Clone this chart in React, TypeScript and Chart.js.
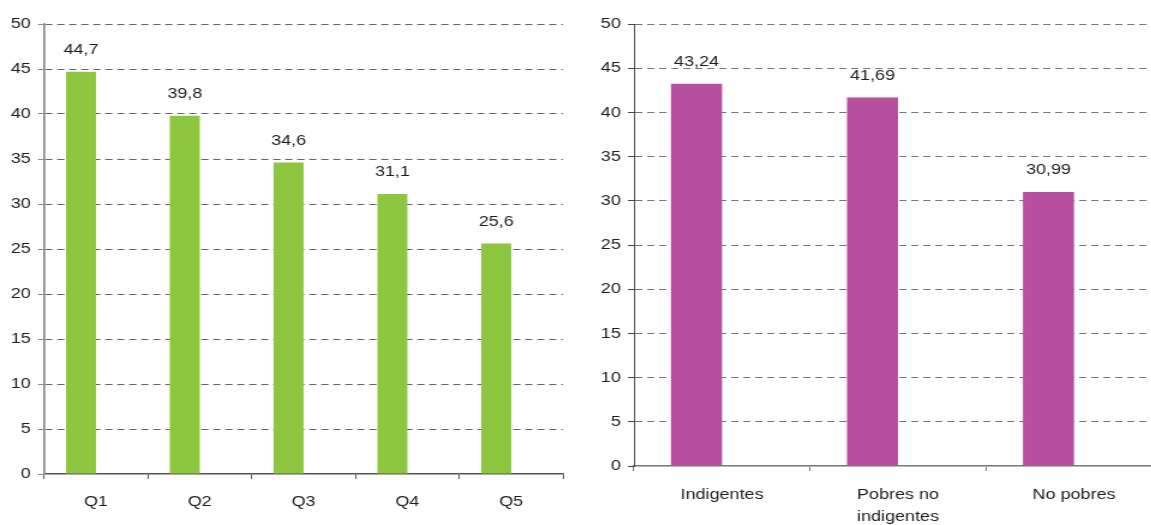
import React, { useEffect, useRef } from "react";
import { Chart, registerables } from "chart.js";

Chart.register(...registerables);

const quintiles = ["Q1", "Q2", "Q3", "Q4", "Q5"];
const quintileValues = [44.7, 39.8, 34.6, 31.1, 25.6];
const povertyGroups: (string | string[])[] = ["Indigentes", ["Pobres no", "indigentes"], "No pobres"];
const povertyValues = [43.24, 41.69, 30.99];
const yTicksMin = 0;
const yTicksMax = 50;
const yTicksStep = 5;

const SX = 1.2; // horizontal stretch of the reference image
const FONT = "'Liberation Sans', Arial, sans-serif";

const valueLabels = (decimals: number) => ({
  id: "valueLabels" + decimals,
  afterDatasetsDraw(chart: any) {
    const ctx = chart.ctx;
    const meta = chart.getDatasetMeta(0);
    const data = chart.data.datasets[0].data as number[];
    ctx.save();
    ctx.font = `15px ${FONT}`;
    ctx.fillStyle = "#1e1e1e";
    ctx.textAlign = "center";
    ctx.textBaseline = "middle";
    meta.data.forEach((bar: any, i: number) => {
      const txt = data[i].toFixed(decimals).replace(".", ",");
      ctx.fillText(txt, bar.x, bar.y - 22);
    });
    ctx.restore();
  },
});

type Props = {
  labels: (string | string[])[];
  values: number[];
  decimals: number;
  color: string;
  width: number;
  yWidth: number;
  xHeight: number;
  padRight: number;
  catPct: number;
  xPad: number;
  lineHeight: number;
  xAxisColor: string;
  yAxisColor: string;
  yAxisWidth: number;
  gridColor: string;
};

function BarChart(p: Props) {
  const ref = useRef<HTMLCanvasElement>(null);
  useEffect(() => {
    const chart = new Chart(ref.current!, {
      type: "bar",
      data: {
        labels: p.labels as any,
        datasets: [
          {
            data: p.values,
            backgroundColor: p.color,
            categoryPercentage: p.catPct,
            barPercentage: 1,
          },
          {
            data: p.values.map(() => null) as any,
            backgroundColor: "rgba(0,0,0,0)",
            categoryPercentage: p.catPct,
            barPercentage: 1,
          },
        ],
      },
      options: {
        responsive: false,
        animation: false,
        layout: { padding: { top: 24, right: p.padRight, left: 0, bottom: 0 } },
        plugins: { legend: { display: false }, tooltip: { enabled: false } },
        scales: {
          x: {
            offset: true,
            grid: {
              display: true,
              drawOnChartArea: false,
              drawTicks: true,
              tickLength: 5,
              offset: true,
              tickColor: p.xAxisColor,
              tickWidth: 1,
            },
            border: { display: true, color: p.xAxisColor, width: 1.5 },
            ticks: {
              color: "#1e1e1e",
              padding: p.xPad,
              maxRotation: 0,
              autoSkip: false,
              font: { family: FONT, size: 15, lineHeight: p.lineHeight },
            },
            afterFit: (s: any) => {
              s.height = p.xHeight;
            },
          },
          y: {
            min: yTicksMin,
            max: yTicksMax,
            grid: {
              color: (c: any) => (c.tick && c.tick.value === 0 ? "rgba(0,0,0,0)" : p.gridColor),
              lineWidth: 1,
              drawTicks: true,
              tickLength: 5,
              tickColor: p.yAxisColor,
              tickBorderDash: [],
              tickWidth: 1,
            },
            border: { display: true, color: p.yAxisColor, width: p.yAxisWidth, dash: [6, 4] },
            ticks: {
              stepSize: yTicksStep,
              color: "#1e1e1e",
              padding: 6,
              font: { family: FONT, size: 15 },
            },
            afterFit: (s: any) => {
              s.width = p.yWidth;
            },
          },
        },
      },
      plugins: [valueLabels(p.decimals)],
    });
    return () => chart.destroy();
  }, []);
  return <canvas ref={ref} width={p.width} height={525} style={{ display: "block" }} />;
}

export default function App() {
  return (
    <div
      style={{
        position: "fixed",
        left: 0,
        top: 0,
        width: 1151,
        height: 525,
        overflow: "hidden",
        background: "#fff",
      }}
    >
      <div
        style={{
          position: "absolute",
          left: 0,
          top: 0,
          transform: `scaleX(${SX})`,
          transformOrigin: "0 0",
        }}
      >
        <BarChart
          labels={quintiles}
          values={quintileValues}
          decimals={1}
          color="#8dc63f"
          width={475}
          yWidth={36.7}
          xHeight={51}
          padRight={5.8}
          catPct={0.577}
          xPad={14}
          lineHeight={1.2}
          xAxisColor="#555"
          yAxisColor="#888"
          yAxisWidth={1.7}
          gridColor="#666"
        />
      </div>
      <div
        style={{
          position: "absolute",
          left: 580,
          top: 0,
          transform: `scaleX(${SX})`,
          transformOrigin: "0 0",
        }}
      >
        <BarChart
          labels={povertyGroups}
          values={povertyValues}
          decimals={2}
          color="#b84f9e"
          width={490}
          yWidth={45}
          xHeight={59}
          padRight={5}
          catPct={0.58}
          xPad={13}
          lineHeight={1.47}
          xAxisColor="#777"
          yAxisColor="#444"
          yAxisWidth={1}
          gridColor="#777"
        />
      </div>
    </div>
  );
}
